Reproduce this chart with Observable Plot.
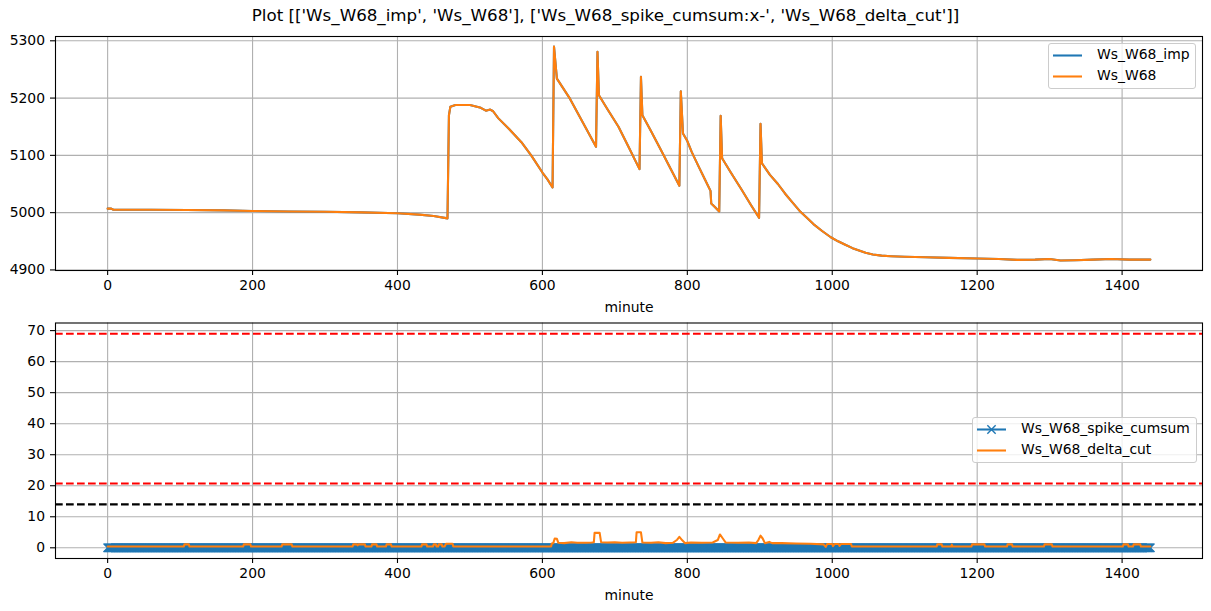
<!DOCTYPE html>
<html>
<head>
<meta charset="utf-8">
<script src="https://cdn.jsdelivr.net/npm/d3@7"></script>
<script src="https://cdn.jsdelivr.net/npm/@observablehq/plot@0.6"></script>
<style>
  body { margin: 0; background: #fff; }
  #fig { position: relative; width: 1211px; height: 611px; overflow: hidden; font-family: "DejaVu Sans", sans-serif; background: #fff; }
  #title { position: absolute; left: 0; top: 5px; width: 1211px; text-align: center; font-size: 16.7px; color: #000; }
  .panel { position: absolute; left: 0; }
  .legend { position: absolute; background: rgba(255,255,255,0.8); border: 1px solid #cccccc; border-radius: 3px; font-size: 13.9px; color: #000; box-sizing: border-box; }
  .legend svg { position: absolute; left: 0; top: 0; }
  .legend .lab { position: absolute; white-space: nowrap; line-height: 1; }
</style>
</head>
<body>
<div id="fig">
  <div id="title">Plot [['Ws_W68_imp', 'Ws_W68'], ['Ws_W68_spike_cumsum:x-', 'Ws_W68_delta_cut']]</div>
</div>
<script>
// ---------- data ----------
const xTicks = [0, 200, 400, 600, 800, 1000, 1200, 1400];
const topYTicks = [4900, 5000, 5100, 5200, 5300];
const bottomYTicks = [0, 10, 20, 30, 40, 50, 60, 70];

const topSeriesNames = ["Ws_W68_imp", "Ws_W68"];
const bottomSeriesNames = ["Ws_W68_spike_cumsum", "Ws_W68_delta_cut"];

const minutesTop = [0, 5, 8, 60, 110, 160, 200, 250, 300, 350, 400, 430, 450, 469, 471, 473, 480, 500, 515, 522, 528, 532, 539, 554, 571, 585, 600, 607, 614, 616, 620, 638, 656, 674, 676, 678, 690, 705, 720, 734, 736, 738, 750, 765, 778, 789, 791, 794, 800, 806, 815, 825, 832, 833, 838, 844, 846, 848, 860, 875, 888, 899, 901, 903, 914, 925, 935, 945, 955, 965, 974, 986, 998, 1008, 1018, 1028, 1037, 1046, 1056, 1068, 1081, 1100, 1129, 1161, 1200, 1230, 1255, 1280, 1300, 1315, 1335, 1360, 1385, 1410, 1439];
const wsW68 = [5007, 5007, 5005, 5005, 5004.5, 5004, 5003, 5002, 5001.5, 5000.5, 4999, 4996.5, 4994, 4990, 5170, 5185, 5188, 5188, 5183, 5178, 5180, 5177, 5165, 5146, 5123, 5099, 5070, 5058, 5044, 5290, 5234, 5199, 5157, 5115, 5281, 5205, 5180, 5150, 5112, 5076, 5237, 5170, 5142, 5106, 5074, 5047, 5212, 5138, 5125, 5106, 5082, 5056, 5038, 5016, 5010, 5002, 5169, 5095, 5070, 5040, 5013, 4991, 5155, 5086, 5066, 5050, 5033, 5018, 5003, 4991, 4980, 4968, 4957, 4950, 4944, 4938, 4934, 4930, 4927, 4925, 4924, 4923, 4922, 4921, 4920, 4919, 4917.5, 4918, 4919, 4916.5, 4917, 4918, 4919, 4918, 4918];
// the imputed series lies exactly under Ws_W68 in the picture
const wsW68Imp = [5007, 5007, 5005, 5005, 5004.5, 5004, 5003, 5002, 5001.5, 5000.5, 4999, 4996.5, 4994, 4990, 5170, 5185, 5188, 5188, 5183, 5178, 5180, 5177, 5165, 5146, 5123, 5099, 5070, 5058, 5044, 5290, 5234, 5199, 5157, 5115, 5281, 5205, 5180, 5150, 5112, 5076, 5237, 5170, 5142, 5106, 5074, 5047, 5212, 5138, 5125, 5106, 5082, 5056, 5038, 5016, 5010, 5002, 5169, 5095, 5070, 5040, 5013, 4991, 5155, 5086, 5066, 5050, 5033, 5018, 5003, 4991, 4980, 4968, 4957, 4950, 4944, 4938, 4934, 4930, 4927, 4925, 4924, 4923, 4922, 4921, 4920, 4919, 4917.5, 4918, 4919, 4916.5, 4917, 4918, 4919, 4918, 4918];

// spike cumsum: one marker per minute, value 0 over the whole day
const spikeRuns = [{from: 0, to: 1439, value: 0}];

const deltaMinutes = [0, 105, 106, 112, 113, 187, 188, 197, 198, 240, 241, 254, 255, 338, 339, 344, 345, 346, 355, 356, 364, 365, 371, 372, 384, 385, 391, 392, 433, 434, 440, 441, 449, 450, 453, 454, 456, 457, 461, 462, 465, 467, 476, 477,
  612, 613, 615, 617, 620, 622, 630, 640, 648, 660, 668, 671, 672, 679, 681, 690, 700, 710, 720, 729, 730, 736, 738, 750, 760, 770, 780, 786, 789, 793, 797, 805, 820, 835, 842, 845, 849, 853, 870, 885, 895, 898, 901, 904, 907, 913, 917, 930, 950, 970, 988, 991, 993, 1000, 1001, 1003, 1009, 1010, 1012, 1026, 1027,
  1144, 1145, 1151, 1152, 1164, 1165, 1166, 1192, 1193, 1210, 1211, 1241, 1242, 1248, 1249, 1292, 1293, 1303, 1304, 1401, 1402, 1408, 1409, 1415, 1416, 1425, 1426, 1439];
const deltaCut = [0.4, 0.4, 1.1, 1.1, 0.4, 0.4, 1.1, 1.1, 0.4, 0.4, 1.1, 1.1, 0.4, 0.4, 1.1, 1.1, 0.8, 1.1, 1.1, 0.4, 0.4, 1.1, 1.1, 0.4, 0.4, 1.1, 1.1, 0.4, 0.4, 1.1, 1.1, 0.4, 0.4, 1.1, 1.1, 0.4, 0.4, 1.1, 1.1, 0.4, 0.4, 1.3, 1.3, 0.4,
  0.4, 1.4, 1.5, 3.0, 2.9, 1.6, 1.5, 1.8, 1.6, 1.6, 1.7, 1.8, 4.8, 4.8, 1.8, 1.7, 1.8, 1.6, 1.7, 1.8, 5.0, 5.0, 1.7, 1.6, 1.8, 1.5, 1.6, 2.6, 3.5, 2.4, 1.5, 1.7, 1.6, 1.7, 2.5, 4.3, 3.0, 1.7, 1.6, 1.7, 1.5, 2.5, 3.9, 3.0, 1.5, 1.9, 1.5, 1.5, 1.4, 1.3, 1.1, 0.3, 1.2, 1.2, 0.5, 1.2, 1.2, 0.6, 1.2, 1.2, 0.4,
  0.4, 1.1, 1.1, 0.4, 0.4, 1.0, 0.4, 0.4, 1.1, 1.1, 0.4, 0.4, 1.1, 1.1, 0.4, 0.4, 1.1, 1.1, 0.4, 0.4, 1.1, 1.1, 0.4, 0.4, 1.1, 1.1, 0.4, 0.4];

const redLevels = [69, 20.7];
const blackLevels = [14];

// ---------- drawing ----------
const BLUE = "#1f77b4", ORANGE = "#ff7f0e", GRID = "#b0b0b0";
const LW = 2.08;
const fig = document.getElementById("fig");
const xDomain = [-71.95, 1510.95];
const fmt = d3.format("d");
const common = {
  width: 1211, marginLeft: 55, marginRight: 9,
  style: {fontFamily: "DejaVu Sans, sans-serif", fontSize: "13.9px", color: "#000", background: "transparent", overflow: "visible"}
};
const axisOpts = {tickSize: 5, tickPadding: 5, fontSize: 13.9, stroke: "#000", strokeWidth: 1.1, tickFormat: fmt};

const topRows = minutesTop.map((m, i) => ({minute: m, imp: wsW68Imp[i], raw: wsW68[i]}));
const topChart = Plot.plot({
  ...common,
  height: 316, marginTop: 36, marginBottom: 46,
  x: {domain: xDomain},
  y: {domain: [4899, 5307.5]},
  marks: [
    Plot.gridX(xTicks, {stroke: GRID, strokeOpacity: 1, strokeWidth: 1.1}),
    Plot.gridY(topYTicks, {stroke: GRID, strokeOpacity: 1, strokeWidth: 1.1}),
    Plot.line(topRows, {x: "minute", y: "imp", stroke: BLUE, strokeWidth: LW}),
    Plot.line(topRows, {x: "minute", y: "raw", stroke: ORANGE, strokeWidth: LW}),
    Plot.frame({stroke: "#000", strokeWidth: 1.1}),
    Plot.axisX(xTicks, {...axisOpts, label: "minute", labelAnchor: "center", labelArrow: "none", labelOffset: 41}),
    Plot.axisY(topYTicks, {...axisOpts, tickPadding: 5.5, label: null})
  ]
});
topChart.classList.add("panel");
topChart.style.top = "0px";
fig.appendChild(topChart);

const spikeRows = [];
for (const run of spikeRuns) for (let m = run.from; m <= run.to; m++) spikeRows.push({minute: m, v: run.value});
const deltaRows = deltaMinutes.map((m, i) => ({minute: m, v: deltaCut[i]}));

const bottomChart = Plot.plot({
  ...common,
  height: 295, marginTop: 6.5, marginBottom: 53,
  x: {domain: xDomain},
  y: {domain: [-3.45, 72.45]},
  marks: [
    Plot.gridX(xTicks, {stroke: GRID, strokeOpacity: 1, strokeWidth: 1.1}),
    Plot.gridY(bottomYTicks, {stroke: GRID, strokeOpacity: 1, strokeWidth: 1.1}),
    Plot.line(spikeRows, {x: "minute", y: "v", stroke: BLUE, strokeWidth: LW}),
    Plot.dot(spikeRows, {x: "minute", y: "v", symbol: "times", r: 3.87, stroke: BLUE, strokeWidth: 1.4}),
    Plot.line(deltaRows, {x: "minute", y: "v", stroke: ORANGE, strokeWidth: LW}),
    Plot.ruleY(redLevels, {stroke: "red", strokeWidth: LW, strokeDasharray: "7.7,3.3"}),
    Plot.ruleY(blackLevels, {stroke: "#000", strokeWidth: LW, strokeDasharray: "7.7,3.3"}),
    Plot.frame({stroke: "#000", strokeWidth: 1.1}),
    Plot.axisX(xTicks, {...axisOpts, label: "minute", labelAnchor: "center", labelArrow: "none", labelOffset: 41}),
    Plot.axisY(bottomYTicks, {...axisOpts, tickPadding: 5.5, label: null})
  ]
});
bottomChart.classList.add("panel");
bottomChart.style.top = "316px";
fig.appendChild(bottomChart);

// ---------- legends ----------
function legend(left, top, width, entries) {
  const div = document.createElement("div");
  div.className = "legend";
  div.style.left = left + "px";
  div.style.top = top + "px";
  div.style.width = width + "px";
  div.style.height = "46px";
  const ns = "http://www.w3.org/2000/svg";
  const svg = document.createElementNS(ns, "svg");
  svg.setAttribute("width", width);
  svg.setAttribute("height", 46);
  entries.forEach((e, i) => {
    const cy = 11.5 + i * 21;
    const ln = document.createElementNS(ns, "line");
    ln.setAttribute("x1", 4); ln.setAttribute("x2", 33);
    ln.setAttribute("y1", cy); ln.setAttribute("y2", cy);
    ln.setAttribute("stroke", e.color); ln.setAttribute("stroke-width", LW);
    svg.appendChild(ln);
    if (e.marker) {
      const p = document.createElementNS(ns, "path");
      const cx = 18.5, h = 4.15;
      p.setAttribute("d", `M${cx-h},${cy-h}L${cx+h},${cy+h}M${cx-h},${cy+h}L${cx+h},${cy-h}`);
      p.setAttribute("stroke", e.color); p.setAttribute("stroke-width", 1.4);
      svg.appendChild(p);
    }
    const t = document.createElement("div");
    t.className = "lab";
    t.textContent = e.name;
    t.style.left = "48px";
    t.style.top = (cy - 7.5) + "px";
    div.appendChild(t);
  });
  div.insertBefore(svg, div.firstChild);
  fig.appendChild(div);
}
legend(1048, 43, 148, [{name: topSeriesNames[0], color: BLUE}, {name: topSeriesNames[1], color: ORANGE}]);
legend(972, 417, 225, [{name: bottomSeriesNames[0], color: BLUE, marker: true}, {name: bottomSeriesNames[1], color: ORANGE}]);
</script>
</body>
</html>
